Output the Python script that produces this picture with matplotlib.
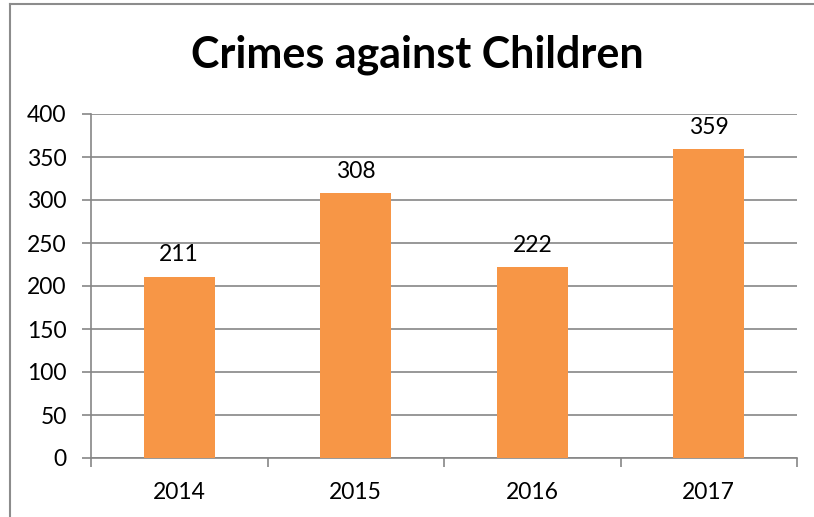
import matplotlib
matplotlib.use('Agg')
import matplotlib.pyplot as plt
from matplotlib.lines import Line2D

years = ['2014', '2015', '2016', '2017']
crimes = [211, 308, 222, 359]
yticks = [0, 50, 100, 150, 200, 250, 300, 350, 400]

plt.rcParams['font.family'] = ['Lato', 'DejaVu Sans']

fig = plt.figure(figsize=(8.14, 5.17), dpi=100)
ax = fig.add_axes([91/814, 1 - 458/517, 706/814, 344/517])

x = list(range(len(years)))
bars = ax.bar(x, crimes, width=0.4, color='#F79646', zorder=3)
for xi, v in zip(x, crimes):
    ax.annotate(str(v), (xi, v), xytext=(0, 8), textcoords='offset points',
                ha='center', va='bottom', fontsize=16.5)

ax.set_xlim(-0.5, len(years) - 0.5)
ax.set_ylim(0, 400)
ax.set_yticks(yticks)
ax.set_xticks(x)
ax.set_xticklabels(years)
ax.set_xticks([i - 0.5 for i in range(len(years) + 1)], minor=True)
ax.grid(axis='y', color='#868686', linewidth=1.2, zorder=0)

for side in ['top', 'right']:
    ax.spines[side].set_visible(False)
ax.spines['left'].set_color('#868686')
ax.spines['bottom'].set_color('#868686')
ax.spines['left'].set_linewidth(1.2)
ax.spines['bottom'].set_linewidth(1.2)

ax.tick_params(axis='y', direction='out', length=6.5, color='#868686', width=1.2,
               labelsize=16.5, pad=11)
ax.tick_params(axis='x', which='major', length=0, labelsize=16.5, pad=17)
ax.tick_params(axis='x', which='minor', direction='out', length=6.5,
               color='#868686', width=1.2)

fig.text(417/814, 1 - 55/517, 'Crimes against Children', ha='center',
         va='center', fontsize=31, fontweight='bold')

# outer chart border (left and top edges visible)
fig.add_artist(Line2D([10/814, 10/814], [0, 1 - 4/517], transform=fig.transFigure,
                      color='#8c8c8c', linewidth=1.5))
fig.add_artist(Line2D([10/814, 1], [1 - 4/517, 1 - 4/517], transform=fig.transFigure,
                      color='#8c8c8c', linewidth=1.5))

fig.savefig('out.png', dpi=100)
